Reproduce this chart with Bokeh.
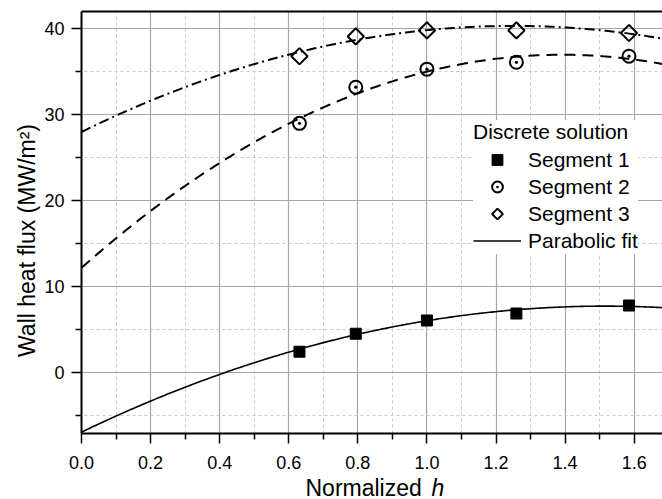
import numpy as np
from bokeh.plotting import figure
from bokeh.models import (Range1d, FixedTicker, NumeralTickFormatter, LinearAxis,
                          Legend, LegendItem, Label, BoxAnnotation)
from bokeh.embed import file_html
from bokeh.resources import INLINE

# ---- data ----
h_vals = [0.631, 0.794, 1.0, 1.259, 1.585]
seg1 = [2.45, 4.54, 6.08, 6.89, 7.82]
seg2 = [29.0, 33.2, 35.3, 36.1, 36.8]
seg3 = [36.8, 39.1, 39.8, 39.8, 39.5]
# parabolic fit coefficients (a + b*h + c*h^2)
fit1 = [-6.9, 19.32, -6.37]
fit2 = [12.2, 35.6, -12.79]
fit3 = [28.0, 19.72, -7.89]

x_ticks = [0.0, 0.2, 0.4, 0.6, 0.8, 1.0, 1.2, 1.4, 1.6]
x_minor = [0.1, 0.3, 0.5, 0.7, 0.9, 1.1, 1.3, 1.5]
y_ticks = [0, 10, 20, 30, 40]
y_minor = [-5, 5, 15, 25, 35]

X_MIN, X_MAX = -0.2345, 1.682
Y_MIN, Y_LOW, Y_MAX = -14.73, -7.0, 42.0
FONT = "Liberation Sans"

p = figure(width=662, height=499, x_range=Range1d(X_MIN, X_MAX), y_range=Range1d(Y_MIN, Y_MAX),
           output_backend="svg", toolbar_location=None,
           min_border_left=0, min_border_right=0, min_border_top=11, min_border_bottom=0)
p.outline_line_color = None
p.background_fill_color = "white"
p.border_fill_color = "white"

# grids
for g in (p.xgrid[0], p.ygrid[0]):
    g.grid_line_color = "#a6a6a6"
    g.grid_line_width = 1.2
    g.minor_grid_line_color = "#c8c8c8"
    g.minor_grid_line_width = 1
    g.minor_grid_line_dash = "3 3"

# white masks outside the data area (drawn over the grid, under the axes)
p.add_layout(BoxAnnotation(top=Y_LOW, fill_color="white", fill_alpha=1, line_color=None, level="underlay"))
p.add_layout(BoxAnnotation(right=0, fill_color="white", fill_alpha=1, line_color=None, level="underlay"))

# axes
xa = p.xaxis[0]
ya = p.yaxis[0]
xa.ticker = FixedTicker(ticks=x_ticks, minor_ticks=x_minor)
ya.ticker = FixedTicker(ticks=y_ticks, minor_ticks=y_minor)
xa.formatter = NumeralTickFormatter(format="0.0")
ya.formatter = NumeralTickFormatter(format="0")
xa.fixed_location = Y_LOW
ya.fixed_location = 0.0
xa.bounds = (0, X_MAX)
ya.bounds = (Y_LOW, Y_MAX)
for ax in (xa, ya):
    ax.axis_line_width = 2
    ax.axis_line_color = "black"
    ax.major_tick_out = 10
    ax.major_tick_in = 0
    ax.minor_tick_out = 6
    ax.minor_tick_in = 0
    ax.major_tick_line_width = 1.5
    ax.minor_tick_line_width = 1.5
    ax.major_tick_line_color = "black"
    ax.minor_tick_line_color = "black"
    ax.major_label_text_font = FONT
    ax.major_label_text_font_size = "18px"
    ax.major_label_text_color = "black"
xa.major_label_standoff = 13
ya.major_label_standoff = 7

# top border line
top = LinearAxis(ticker=FixedTicker(ticks=[]), major_tick_out=0, minor_tick_out=0,
                 major_tick_in=0, minor_tick_in=0, axis_line_width=2,
                 axis_line_color="black", bounds=(0, X_MAX))
p.add_layout(top, "above")

# fitted curves
hx = np.linspace(0, X_MAX, 300)
def parab(c):
    return c[0] + c[1] * hx + c[2] * hx ** 2

l1 = p.line(hx, parab(fit1), line_color="black", line_width=1.6)
l2 = p.line(hx, parab(fit2), line_color="black", line_width=2, line_dash="11 7")
l3 = p.line(hx, parab(fit3), line_color="black", line_width=2, line_dash="10 4 2 4")

# discrete markers
r1 = p.scatter(h_vals, seg1, marker="square", size=11, fill_color="black", line_color="black", line_width=1)
r2 = p.scatter(h_vals, seg2, marker="circle_dot", size=13, fill_color=None, line_color="black", line_width=2)
r3 = p.scatter(h_vals, seg3, marker="square", angle=np.pi / 4, size=11.5, fill_color=None,
               line_color="black", line_width=2)

# legend-only symbol for the diamonds (the legend does not rotate markers);
# its single point is NaN so nothing is drawn in the plot area
try:
    r3_leg = p.ngon(x=[np.nan], y=[np.nan], radius=1, n=4, fill_color=None,
                    line_color="black", line_width=2)
except Exception:
    r3_leg = p.scatter(x=[np.nan], y=[np.nan], marker="diamond", size=12, fill_color=None,
                       line_color="black", line_width=2)

legend = Legend(items=[
    LegendItem(label="Segment 1", renderers=[r1]),
    LegendItem(label="Segment 2", renderers=[r2]),
    LegendItem(label="Segment 3", renderers=[r3_leg]),
    LegendItem(label="Parabolic fit", renderers=[l1]),
], location=(473, 245))
legend.title = "Discrete solution"
legend.title_text_font = FONT
legend.title_text_font_size = "21px"
legend.title_text_font_style = "normal"
legend.title_text_color = "black"
legend.title_standoff = 2
legend.label_text_font = FONT
legend.label_text_font_size = "21px"
legend.label_text_color = "black"
legend.glyph_width = 48
legend.glyph_height = 27
legend.label_height = 27
legend.spacing = 0
legend.label_standoff = 7
legend.padding = 5
legend.margin = 0
legend.border_line_color = None
legend.background_fill_color = "white"
legend.background_fill_alpha = 1
p.add_layout(legend, "center")

# axis titles
p.add_layout(Label(x=26, y=259, x_units="screen", y_units="screen",
                   text="Wall heat flux (MW/m\u00b2)", angle=np.pi / 2,
                   text_font=FONT, text_font_size="23px", text_color="black",
                   text_baseline="alphabetic", text_align="center"))
p.add_layout(Label(x=305, y=12, x_units="screen", y_units="screen", text="Normalized",
                   text_font=FONT, text_font_size="23px", text_color="black",
                   text_baseline="alphabetic", text_align="left"))
p.add_layout(Label(x=431, y=12, x_units="screen", y_units="screen", text="h",
                   text_font=FONT, text_font_size="23px", text_font_style="italic",
                   text_color="black", text_baseline="alphabetic", text_align="left"))

open("out.html", "w").write(file_html(p, INLINE))
